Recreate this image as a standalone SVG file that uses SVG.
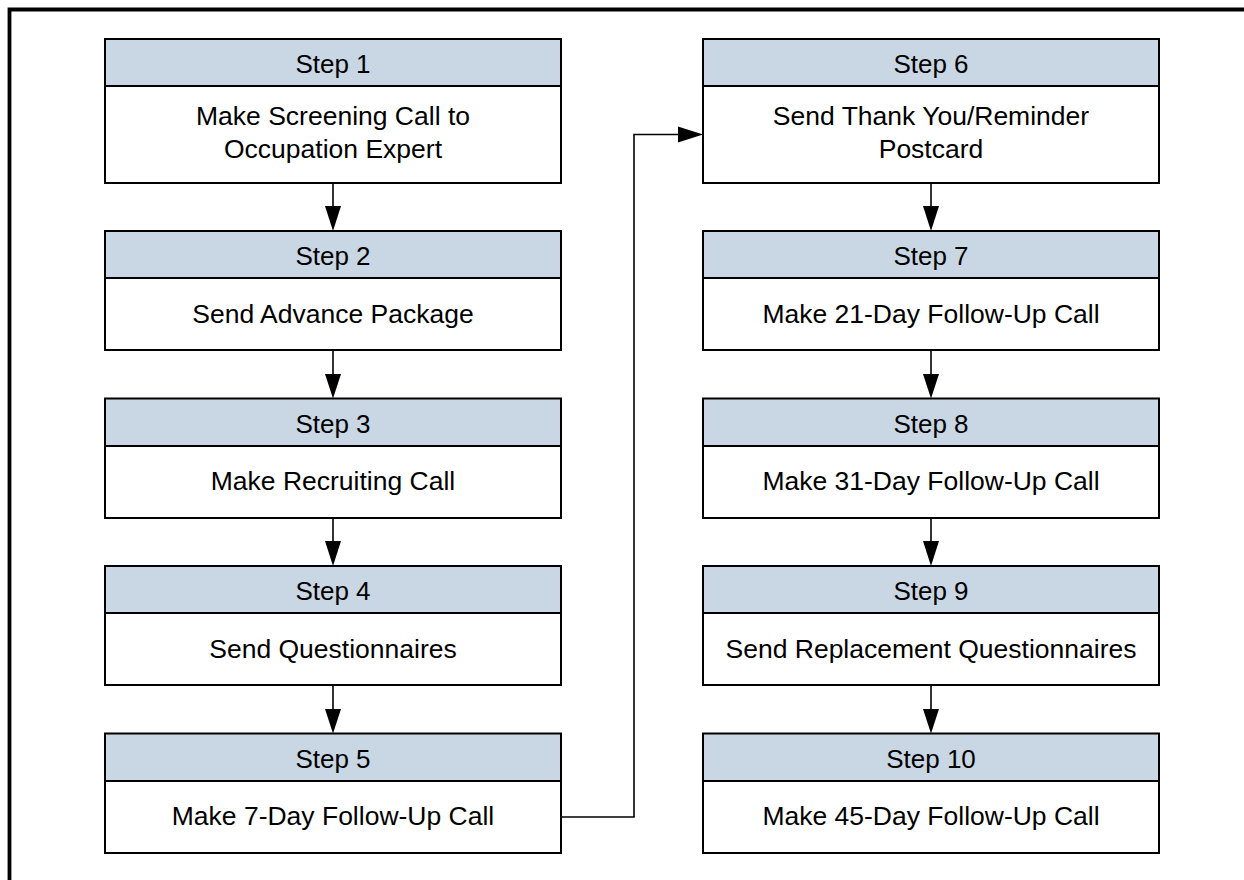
<svg xmlns="http://www.w3.org/2000/svg" width="1244" height="880" viewBox="0 0 1244 880">
<style>
.hd{fill:#c9d6e4;stroke:#000;stroke-width:2}
.bd{fill:#fff;stroke:#000;stroke-width:2}
text{font-family:"Liberation Sans",Arial,sans-serif;font-size:26.5px;fill:#000;text-anchor:middle}
text.h{font-size:26px}
.ln{fill:none;stroke:#000;stroke-width:1.6}
.ah{fill:#000}
</style>
<rect width="1244" height="880" fill="#fff"/>
<path d="M9.5,880 V9.5 H1244" fill="none" stroke="#000" stroke-width="3.8"/>
<g id="connectors">
<line class="ln" x1="333" y1="183" x2="333" y2="208"/><polygon class="ah" points="325,206 341,206 333,231"/>
<line class="ln" x1="333" y1="350" x2="333" y2="376"/><polygon class="ah" points="325,374 341,374 333,398.5"/>
<line class="ln" x1="333" y1="518" x2="333" y2="543"/><polygon class="ah" points="325,541 341,541 333,566"/>
<line class="ln" x1="333" y1="685" x2="333" y2="711"/><polygon class="ah" points="325,709 341,709 333,733.5"/>
<polyline class="ln" points="561,817 634,817 634,134.5 681,134.5"/><polygon class="ah" points="678,126.5 678,142.5 703,134.5"/>
<line class="ln" x1="931" y1="183" x2="931" y2="208"/><polygon class="ah" points="923,206 939,206 931,231"/>
<line class="ln" x1="931" y1="350" x2="931" y2="376"/><polygon class="ah" points="923,374 939,374 931,398.5"/>
<line class="ln" x1="931" y1="518" x2="931" y2="543"/><polygon class="ah" points="923,541 939,541 931,566"/>
<line class="ln" x1="931" y1="685" x2="931" y2="711"/><polygon class="ah" points="923,709 939,709 931,733.5"/>
</g>
<g id="step1"><rect class="bd" x="105" y="86" width="456" height="97"/><rect class="hd" x="105" y="39" width="456" height="47"/><text class="h" x="333" y="73">Step 1</text><text x="333" y="125">Make Screening Call to</text><text x="333" y="158">Occupation Expert</text></g>
<g id="step2"><rect class="bd" x="105" y="278" width="456" height="72"/><rect class="hd" x="105" y="231" width="456" height="47"/><text class="h" x="333" y="265">Step 2</text><text x="333" y="322.5">Send Advance Package</text></g>
<g id="step3"><rect class="bd" x="105" y="446" width="456" height="72"/><rect class="hd" x="105" y="398.5" width="456" height="47.5"/><text class="h" x="333" y="432.5">Step 3</text><text x="333" y="490">Make Recruiting Call</text></g>
<g id="step4"><rect class="bd" x="105" y="613" width="456" height="72"/><rect class="hd" x="105" y="566" width="456" height="47"/><text class="h" x="333" y="600">Step 4</text><text x="333" y="657.5">Send Questionnaires</text></g>
<g id="step5"><rect class="bd" x="105" y="781" width="456" height="72"/><rect class="hd" x="105" y="733.5" width="456" height="47.5"/><text class="h" x="333" y="767.5">Step 5</text><text x="333" y="825">Make 7-Day Follow-Up Call</text></g>
<g id="step6"><rect class="bd" x="703" y="86" width="456" height="97"/><rect class="hd" x="703" y="39" width="456" height="47"/><text class="h" x="931" y="73">Step 6</text><text x="931" y="125">Send Thank You/Reminder</text><text x="931" y="158">Postcard</text></g>
<g id="step7"><rect class="bd" x="703" y="278" width="456" height="72"/><rect class="hd" x="703" y="231" width="456" height="47"/><text class="h" x="931" y="265">Step 7</text><text x="931" y="322.5">Make 21-Day Follow-Up Call</text></g>
<g id="step8"><rect class="bd" x="703" y="446" width="456" height="72"/><rect class="hd" x="703" y="398.5" width="456" height="47.5"/><text class="h" x="931" y="432.5">Step 8</text><text x="931" y="490">Make 31-Day Follow-Up Call</text></g>
<g id="step9"><rect class="bd" x="703" y="613" width="456" height="72"/><rect class="hd" x="703" y="566" width="456" height="47"/><text class="h" x="931" y="600">Step 9</text><text x="931" y="657.5">Send Replacement Questionnaires</text></g>
<g id="step10"><rect class="bd" x="703" y="781" width="456" height="72"/><rect class="hd" x="703" y="733.5" width="456" height="47.5"/><text class="h" x="931" y="767.5">Step 10</text><text x="931" y="825">Make 45-Day Follow-Up Call</text></g>
</svg>
